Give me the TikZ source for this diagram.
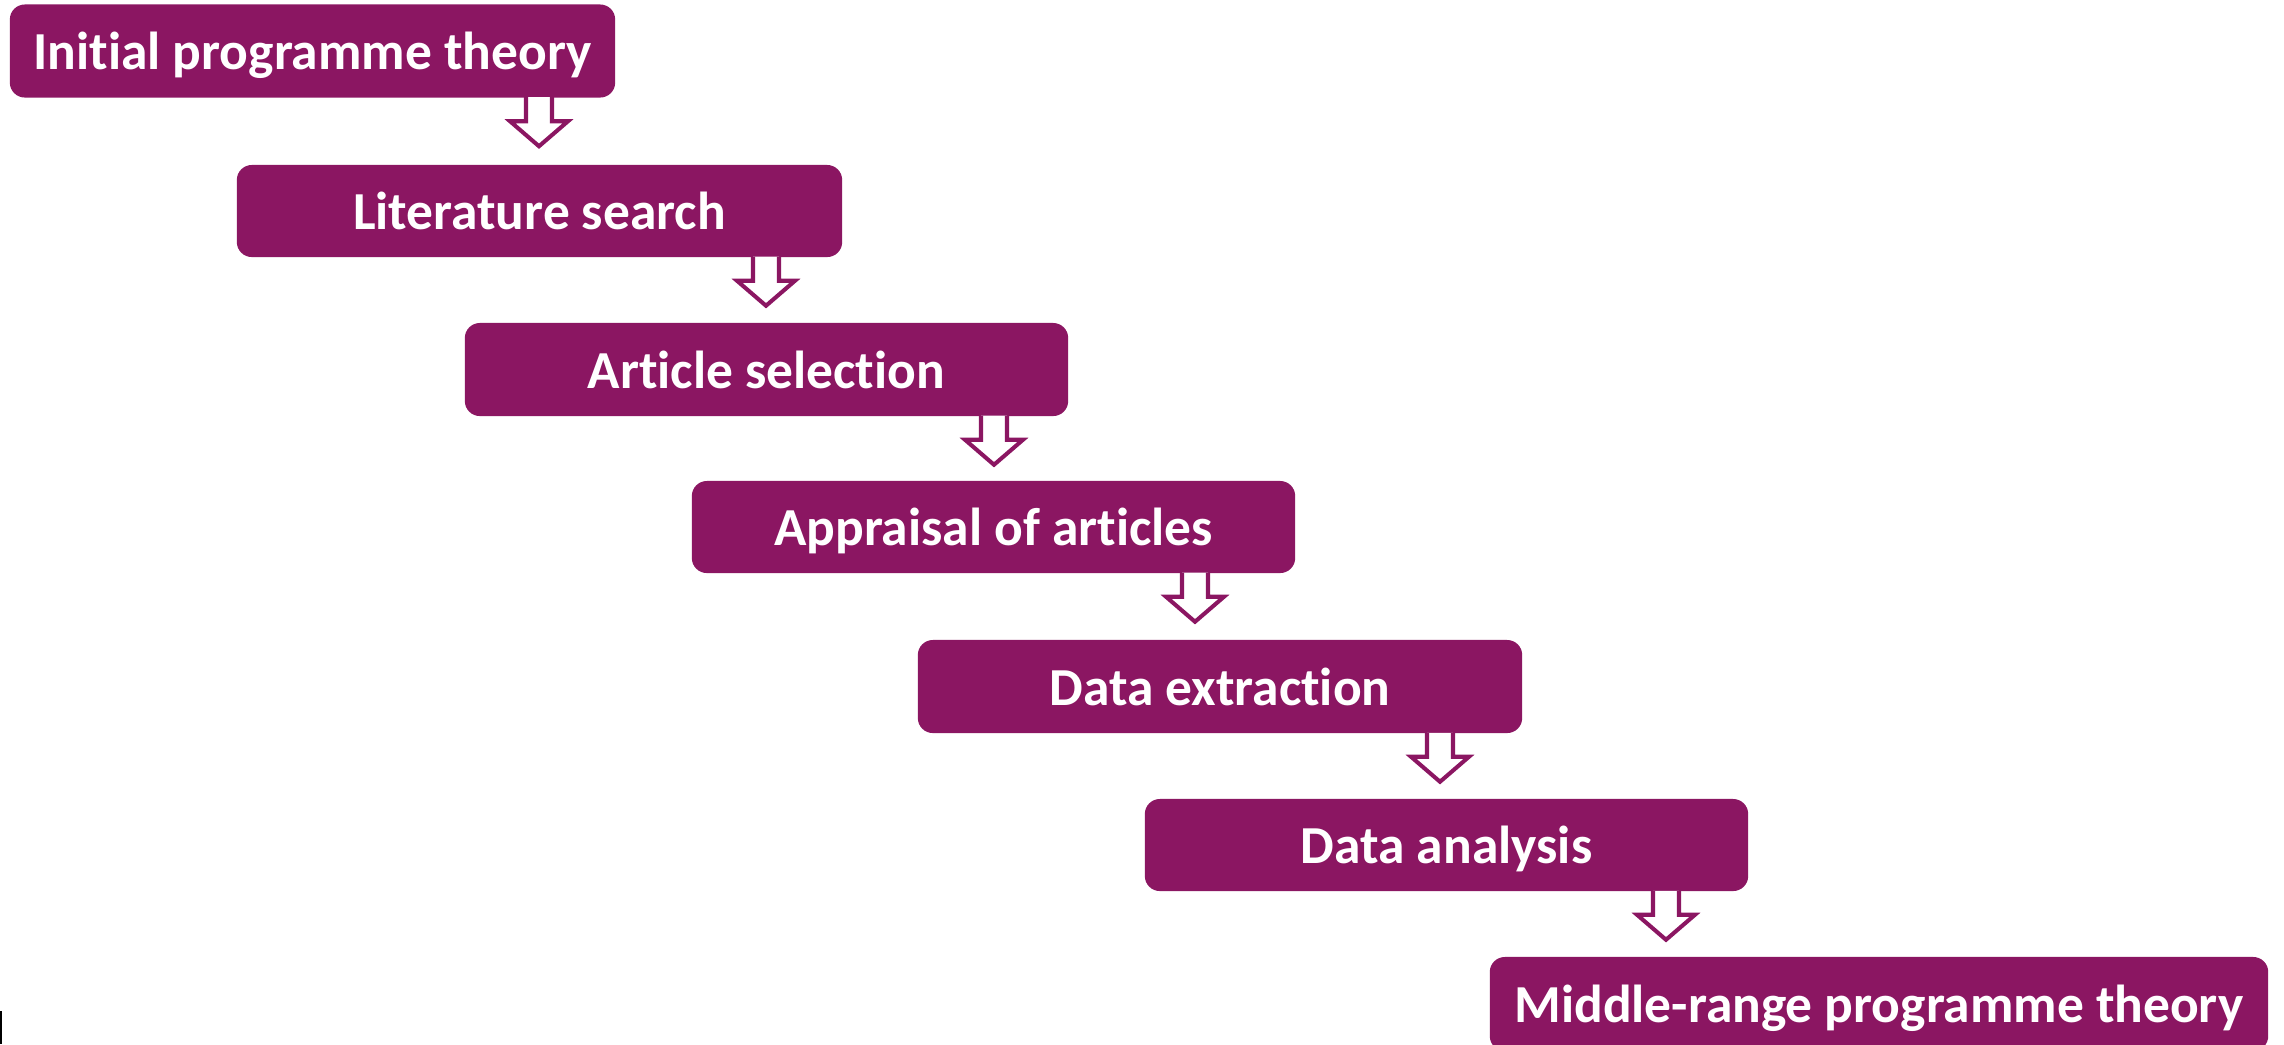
\documentclass[tikz,border=0pt]{standalone}
\usepackage{fontspec}
\setmainfont{Carlito}[Ligatures=NoCommon]
\definecolor{plum}{RGB}{139,22,98}
\tikzset{
  stepbox/.style={rectangle, rounded corners=0.15cm, fill=plum, draw=none,
    text=white, font=\bfseries\fontsize{15.2}{18}\selectfont, inner sep=0pt,
    execute at begin node={\vphantom{hl}}, text depth=0pt, minimum height=0.92cm},
  blk/.style={draw=plum, fill=white, line width=1.15pt, miter limit=10}
}
\begin{document}
\begin{tikzpicture}[x=0.01cm,y=-0.01cm]
\useasboundingbox (0,0) rectangle (2284,1044);
\node[stepbox, minimum width=6.05cm, minimum height=0.93cm] (b1) at (312.5,51) {Initial programme theory};
\node[stepbox, minimum width=6.05cm] (b2) at (539.5,211) {Literature search};
\node[stepbox, minimum width=6.03cm, minimum height=0.93cm] (b3) at (766.5,369.5) {Article selection};
\node[stepbox, minimum width=6.03cm] (b4) at (993.5,527) {Appraisal of articles};
\node[stepbox, minimum width=6.04cm, minimum height=0.93cm] (b5) at (1220,686.5) {Data extraction};
\node[stepbox, minimum width=6.03cm] (b6) at (1446.5,845) {Data analysis};
\node[stepbox, minimum width=7.78cm, minimum height=0.94cm] (b7) at (1879,1004) {Middle-range programme theory};
\coordinate (a1) at (539,0);
\coordinate (a2) at (766,0);
\coordinate (a3) at (994,0);
\coordinate (a4) at (1195,0);
\coordinate (a5) at (1440,0);
\coordinate (a6) at (1666,0);
\foreach \b/\a in {b1/a1,b2/a2,b3/a3,b4/a4,b5/a5,b6/a6}{
  \draw[blk] (\b.south -| \a) ++(-13,-1) -- ++(0,24) -- ++(-16,0) -- ++(29,25) -- ++(29,-25) -- ++(-16,0) -- ++(0,-24);
}
\fill[black] (0,1011) rectangle (2.5,1044);
\end{tikzpicture}
\end{document}
